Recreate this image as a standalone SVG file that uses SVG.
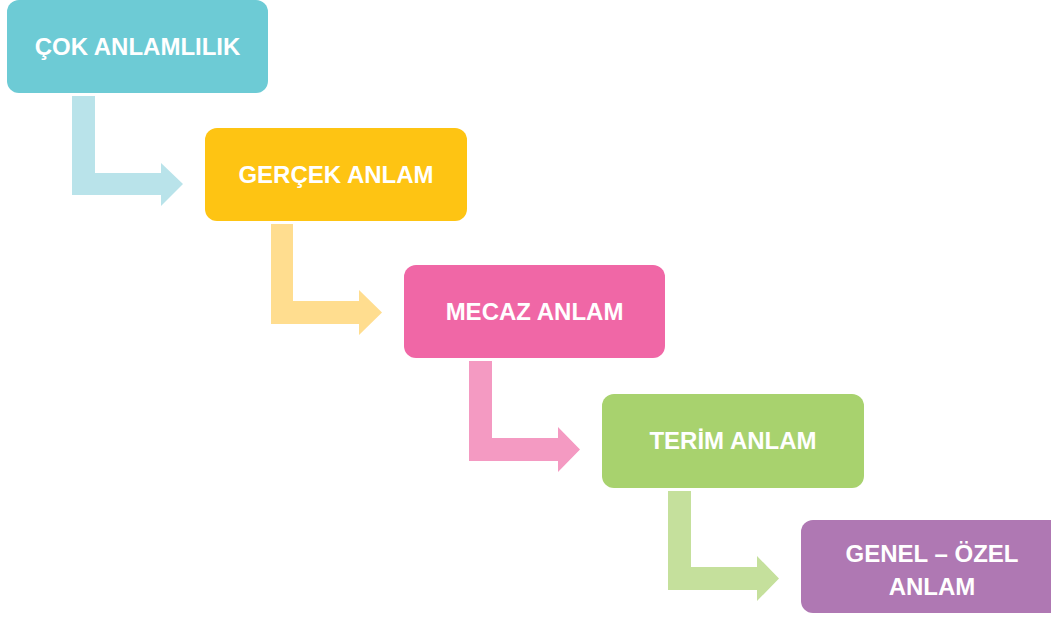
<svg xmlns="http://www.w3.org/2000/svg" width="1051" height="618" viewBox="0 0 1051 618">
<style>
.t{font-family:"Liberation Sans",Arial,sans-serif;font-weight:bold;font-size:24px;fill:#fff;text-anchor:middle}
</style>
<rect width="1051" height="618" fill="#fff"/>
<g id="connectors">
<path d="M72,96 H95 V173 H161 V163 L183,184 L161,206 V195 H72 Z" fill="#B9E3EA"/>
<path d="M271,224 H293 V301 H359 V290 L382,312.5 L359,335 V324 H271 Z" fill="#FFDD8F"/>
<path d="M469,361 H492 V438 H558 V427 L580,449.5 L558,472 V461 H469 Z" fill="#F49AC2"/>
<path d="M668,491 H691 V567 H757 V556 L779,578.5 L757,601 V590 H668 Z" fill="#C5E09C"/>
</g>
<g id="n1"><rect x="7" y="0" width="261" height="93" rx="12" fill="#6DCBD5"/><text class="t" x="137.5" y="55">ÇOK ANLAMLILIK</text></g>
<g id="n2"><rect x="205" y="128" width="262" height="93" rx="12" fill="#FEC413"/><text class="t" x="336" y="183">GERÇEK ANLAM</text></g>
<g id="n3"><rect x="404" y="265" width="261" height="93" rx="12" fill="#F067A6"/><text class="t" x="534.5" y="320">MECAZ ANLAM</text></g>
<g id="n4"><rect x="602" y="394" width="262" height="94" rx="12" fill="#A8D26E"/><text class="t" x="733" y="449">TERİM ANLAM</text></g>
<g id="n5"><rect x="801" y="520" width="262" height="93" rx="12" fill="#AF78B3"/><text class="t" x="932" y="562">GENEL – ÖZEL</text><text class="t" x="932" y="595">ANLAM</text></g>
</svg>
